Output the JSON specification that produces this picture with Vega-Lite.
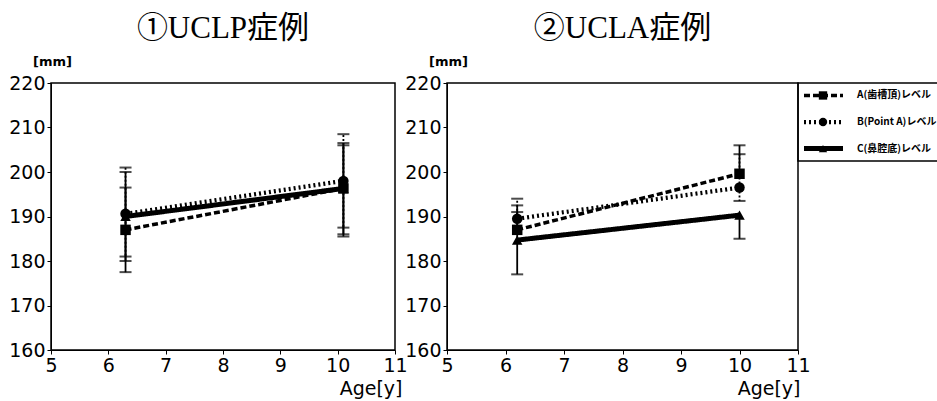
{
  "$schema": "https://vega.github.io/schema/vega-lite/v6.json",
  "background": "white",
  "padding": {"left": 7, "top": 12, "right": 0, "bottom": 0},
  "autosize": {"type": "pad"},
  "bounds": "flush",
  "spacing": 52,
  "config": {
    "view": {"stroke": "black", "strokeWidth": 1.5},
    "title": {"font": "Liberation Serif, Noto Sans CJK JP", "fontSize": 31, "fontWeight": "normal", "color": "black", "anchor": "middle", "offset": 10},
    "axis": {
      "labelFont": "DejaVu Sans", "labelFontSize": 19, "labelColor": "black",
      "tickColor": "black", "tickSize": 4, "labelPadding": 2,
      "labelOverlap": false, "labelFlush": false, "format": "d",
      "domainColor": "black", "grid": false,
      "titleFont": "DejaVu Sans", "titleColor": "black"
    }
  },
  "datasets": {
    "points": [
      {"panel": "UCLP", "series": "A", "age": 6.3, "value": 187.0},
      {"panel": "UCLP", "series": "A", "age": 10.1, "value": 196.3},
      {"panel": "UCLP", "series": "B", "age": 6.3, "value": 190.6},
      {"panel": "UCLP", "series": "B", "age": 10.1, "value": 198.0},
      {"panel": "UCLP", "series": "C", "age": 6.3, "value": 190.0},
      {"panel": "UCLP", "series": "C", "age": 10.1, "value": 196.3},
      {"panel": "UCLA", "series": "A", "age": 6.2, "value": 187.0},
      {"panel": "UCLA", "series": "A", "age": 10.0, "value": 199.6},
      {"panel": "UCLA", "series": "B", "age": 6.2, "value": 189.5},
      {"panel": "UCLA", "series": "B", "age": 10.0, "value": 196.5},
      {"panel": "UCLA", "series": "C", "age": 6.2, "value": 184.7},
      {"panel": "UCLA", "series": "C", "age": 10.0, "value": 190.3}
    ],
    "errbars": [
      {"panel": "UCLP", "series": "A", "age": 6.3, "from": 187.0, "to": 196.5},
      {"panel": "UCLP", "series": "A", "age": 6.3, "from": 187.0, "to": 177.5},
      {"panel": "UCLP", "series": "B", "age": 6.3, "from": 190.6, "to": 201.0},
      {"panel": "UCLP", "series": "B", "age": 6.3, "from": 190.6, "to": 181.0},
      {"panel": "UCLP", "series": "C", "age": 6.3, "from": 190.0, "to": 200.0},
      {"panel": "UCLP", "series": "C", "age": 6.3, "from": 190.0, "to": 180.0},
      {"panel": "UCLP", "series": "A", "age": 10.1, "from": 196.3, "to": 206.5},
      {"panel": "UCLP", "series": "A", "age": 10.1, "from": 196.3, "to": 185.5},
      {"panel": "UCLP", "series": "B", "age": 10.1, "from": 198.0, "to": 208.5},
      {"panel": "UCLP", "series": "B", "age": 10.1, "from": 198.0, "to": 187.5},
      {"panel": "UCLP", "series": "C", "age": 10.1, "from": 196.3, "to": 206.0},
      {"panel": "UCLP", "series": "C", "age": 10.1, "from": 196.3, "to": 186.0},
      {"panel": "UCLA", "series": "A", "age": 6.2, "from": 187.0, "to": 191.0},
      {"panel": "UCLA", "series": "B", "age": 6.2, "from": 189.5, "to": 194.0},
      {"panel": "UCLA", "series": "C", "age": 6.2, "from": 184.7, "to": 192.5},
      {"panel": "UCLA", "series": "C", "age": 6.2, "from": 184.7, "to": 177.0},
      {"panel": "UCLA", "series": "A", "age": 10.0, "from": 199.6, "to": 206.0},
      {"panel": "UCLA", "series": "B", "age": 10.0, "from": 196.5, "to": 204.0},
      {"panel": "UCLA", "series": "B", "age": 10.0, "from": 196.5, "to": 193.5},
      {"panel": "UCLA", "series": "C", "age": 10.0, "from": 190.3, "to": 185.0}
    ],
    "legend": [
      {"series": "A", "label": "A(歯槽頂)レベル"},
      {"series": "B", "label": "B(Point A)レベル"},
      {"series": "C", "label": "C(鼻腔底)レベル"}
    ]
  },
  "hconcat": [
    {
      "title": {"text": "①UCLP症例"},
      "width": 344,
      "height": 267,
      "layer": [
        {
          "data": {"name": "errbars"},
          "transform": [{"filter": "datum.panel === 'UCLP'"}],
          "mark": {"type": "rule", "color": "black", "strokeWidth": 1.8},
          "encoding": {
            "x": {"field": "age", "type": "quantitative", "title": "Age[y]",
                  "scale": {"domain": [5, 11], "nice": false, "zero": false},
                  "axis": {"values": [5, 6, 7, 8, 9, 10, 11], "titleFontSize": 19, "titleFontWeight": "normal", "titleAlign": "right", "titleAnchor": null, "titleX": 351, "titleY": 44, "titleBaseline": "alphabetic"}},
            "y": {"field": "from", "type": "quantitative", "title": "[mm]",
                  "scale": {"domain": [160, 220], "nice": false, "zero": false},
                  "axis": {"values": [160, 170, 180, 190, 200, 210, 220], "titleAngle": 0, "titleFontSize": 13, "titleFontWeight": "bold", "titleAlign": "center", "titleX": 1, "titleY": -18, "titleBaseline": "alphabetic"}},
            "y2": {"field": "to"},
            "strokeDash": {"condition": {"test": "datum.series === 'B'", "value": [2, 2]}, "value": [1, 0]}
          }
        },
        {
          "data": {"name": "errbars"},
          "transform": [{"filter": "datum.panel === 'UCLP'"}],
          "mark": {"type": "tick", "orient": "horizontal", "color": "black", "size": 12, "thickness": 2},
          "encoding": {
            "x": {"field": "age", "type": "quantitative", "title": "Age[y]"},
            "y": {"field": "to", "type": "quantitative", "title": "[mm]"}
          }
        },
        {
          "data": {"name": "points"},
          "transform": [{"filter": "datum.panel === 'UCLP'"}],
          "mark": {"type": "line", "color": "black"},
          "encoding": {
            "x": {"field": "age", "type": "quantitative", "title": "Age[y]"},
            "y": {"field": "value", "type": "quantitative", "title": "[mm]"},
            "strokeDash": {"field": "series", "type": "nominal", "scale": {"domain": ["A", "B", "C"], "range": [[6, 3], [2, 3], [1, 0]]}, "legend": null},
            "strokeWidth": {"field": "series", "type": "nominal", "scale": {"domain": ["A", "B", "C"], "range": [3.5, 5, 4.5]}, "legend": null}
          }
        },
        {
          "data": {"name": "points"},
          "transform": [{"filter": "datum.panel === 'UCLP'"}],
          "mark": {"type": "point", "filled": true, "color": "black", "opacity": 1, "size": 110},
          "encoding": {
            "x": {"field": "age", "type": "quantitative", "title": "Age[y]"},
            "y": {"field": "value", "type": "quantitative", "title": "[mm]"},
            "shape": {"field": "series", "type": "nominal", "scale": {"domain": ["A", "B", "C"], "range": ["square", "circle", "triangle-up"]}, "legend": null}
          }
        }
      ]
    },
    {
      "bounds": "flush",
      "spacing": 0,
      "hconcat": [
        {
          "title": {"text": "②UCLA症例"},
          "width": 351,
          "height": 267,
          "layer": [
            {
              "data": {"name": "errbars"},
              "transform": [{"filter": "datum.panel === 'UCLA'"}],
              "mark": {"type": "rule", "color": "black", "strokeWidth": 1.8},
              "encoding": {
                "x": {"field": "age", "type": "quantitative", "title": "Age[y]",
                      "scale": {"domain": [5, 11], "nice": false, "zero": false},
                      "axis": {"values": [5, 6, 7, 8, 9, 10, 11], "titleFontSize": 19, "titleFontWeight": "normal", "titleAlign": "right", "titleAnchor": null, "titleX": 353, "titleY": 44, "titleBaseline": "alphabetic"}},
                "y": {"field": "from", "type": "quantitative", "title": "[mm]",
                      "scale": {"domain": [160, 220], "nice": false, "zero": false},
                      "axis": {"values": [160, 170, 180, 190, 200, 210, 220], "titleAngle": 0, "titleFontSize": 13, "titleFontWeight": "bold", "titleAlign": "center", "titleX": 1, "titleY": -18, "titleBaseline": "alphabetic"}},
                "y2": {"field": "to"},
                "strokeDash": {"condition": {"test": "datum.series === 'B'", "value": [2, 2]}, "value": [1, 0]}
              }
            },
            {
              "data": {"name": "errbars"},
              "transform": [{"filter": "datum.panel === 'UCLA'"}],
              "mark": {"type": "tick", "orient": "horizontal", "color": "black", "size": 12, "thickness": 2},
              "encoding": {
                "x": {"field": "age", "type": "quantitative", "title": "Age[y]"},
                "y": {"field": "to", "type": "quantitative", "title": "[mm]"}
              }
            },
            {
              "data": {"name": "points"},
              "transform": [{"filter": "datum.panel === 'UCLA'"}],
              "mark": {"type": "line", "color": "black"},
              "encoding": {
                "x": {"field": "age", "type": "quantitative", "title": "Age[y]"},
                "y": {"field": "value", "type": "quantitative", "title": "[mm]"},
                "strokeDash": {"field": "series", "type": "nominal", "scale": {"domain": ["A", "B", "C"], "range": [[6, 3], [2, 3], [1, 0]]}, "legend": null},
                "strokeWidth": {"field": "series", "type": "nominal", "scale": {"domain": ["A", "B", "C"], "range": [3.5, 5, 4.5]}, "legend": null}
              }
            },
            {
              "data": {"name": "points"},
              "transform": [{"filter": "datum.panel === 'UCLA'"}],
              "mark": {"type": "point", "filled": true, "color": "black", "opacity": 1, "size": 110},
              "encoding": {
                "x": {"field": "age", "type": "quantitative", "title": "Age[y]"},
                "y": {"field": "value", "type": "quantitative", "title": "[mm]"},
                "shape": {"field": "series", "type": "nominal", "scale": {"domain": ["A", "B", "C"], "range": ["square", "circle", "triangle-up"]}, "legend": null}
              }
            }
          ]
        },
        {
          "width": 140,
          "height": 78,
          "data": {"name": "legend"},
          "encoding": {
            "y": {"field": "series", "type": "nominal", "scale": {"type": "point", "padding": 0.47}, "axis": null}
          },
          "layer": [
            {
              "mark": {"type": "rule", "color": "black"},
              "encoding": {
                "x": {"datum": 0.6, "type": "quantitative", "scale": {"domain": [0, 14], "nice": false, "zero": false}, "axis": null},
                "x2": {"datum": 4.5},
                "strokeDash": {"field": "series", "type": "nominal", "scale": {"domain": ["A", "B", "C"], "range": [[6, 3], [2, 3], [1, 0]]}, "legend": null},
                "strokeWidth": {"field": "series", "type": "nominal", "scale": {"domain": ["A", "B", "C"], "range": [3.5, 5, 4.5]}, "legend": null}
              }
            },
            {
              "mark": {"type": "point", "filled": true, "color": "black", "opacity": 1, "size": 70},
              "encoding": {
                "x": {"datum": 2.5, "type": "quantitative"},
                "shape": {"field": "series", "type": "nominal", "scale": {"domain": ["A", "B", "C"], "range": ["square", "circle", "triangle-up"]}, "legend": null}
              }
            },
            {
              "mark": {"type": "text", "align": "left", "baseline": "middle", "font": "Noto Sans CJK JP", "fontSize": 10, "fontWeight": "bold", "color": "black"},
              "encoding": {
                "x": {"datum": 5.9, "type": "quantitative"},
                "text": {"field": "label"}
              }
            }
          ]
        }
      ]
    }
  ]
}
